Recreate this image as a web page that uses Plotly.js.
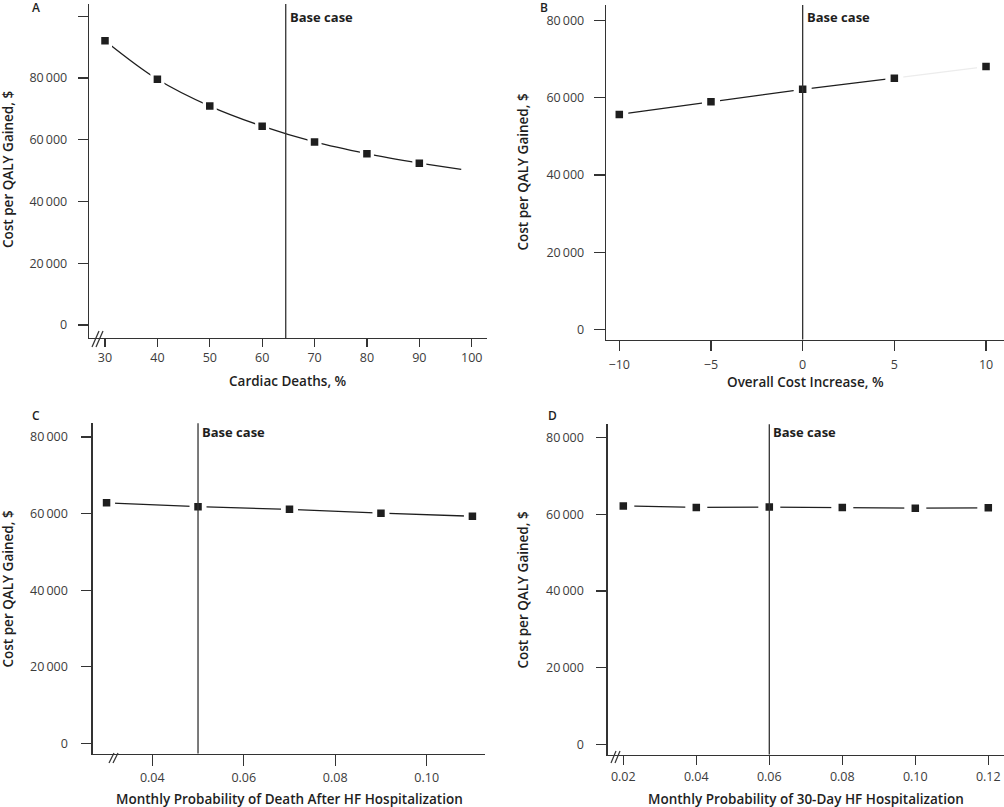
<!DOCTYPE html>
<html>
<head>
<meta charset="utf-8">
<script src="https://cdn.plot.ly/plotly-3.0.1.min.js"></script>
<style>html,body{margin:0;padding:0;background:#fff}#chart{width:1004px;height:807px}</style>
</head>
<body>
<div id="chart"></div>
<script>
// ---------- data ----------
const yTickVals = [0, 20000, 40000, 60000, 80000];
const yTickText = ['0', '20\u2009000', '40\u2009000', '60\u2009000', '80\u2009000'];

// Panel A: Cardiac deaths, %
const aX = [30, 40, 50, 60, 70, 80, 90];
const aY = [92100, 79600, 70900, 64400, 59300, 55500, 52400];
const aTailX = [90, 98];          // curve continues past the last point
const aTailY = [52400, 50400];
const aTicks = [30, 40, 50, 60, 70, 80, 90, 100];
const aTickText = ['30', '40', '50', '60', '70', '80', '90', '100'];
const aBase = 64.5;

// Panel B: Overall cost increase, %
const bX = [-10, -5, 0, 5, 10];
const bY = [55700, 59000, 62200, 65100, 68100];
const bTicks = [-10, -5, 0, 5, 10];
const bTickText = ['\u221210', '\u22125', '0', '5', '10'];
const bBase = 0;

// Panel C: Monthly probability of death after HF hospitalization
const cX = [0.03, 0.05, 0.07, 0.09, 0.11];
const cY = [62800, 61800, 61100, 60100, 59300];
const cTicks = [0.04, 0.06, 0.08, 0.10];
const cTickText = ['0.04', '0.06', '0.08', '0.10'];
const cBase = 0.05;

// Panel D: Monthly probability of 30-day HF hospitalization
const dX = [0.02, 0.04, 0.06, 0.08, 0.10, 0.12];
const dY = [62200, 61800, 61900, 61800, 61600, 61700];
const dTicks = [0.02, 0.04, 0.06, 0.08, 0.10, 0.12];
const dTickText = ['0.02', '0.04', '0.06', '0.08', '0.10', '0.12'];
const dBase = 0.06;

const panelLabels = ['A', 'B', 'C', 'D'];
const xTitles = ['Cardiac Deaths, %', 'Overall Cost Increase, %',
  'Monthly Probability of Death After HF Hospitalization',
  'Monthly Probability of 30-Day HF Hospitalization'];
const yTitle = 'Cost per QALY Gained, $';

// ---------- layout helpers ----------
const W = 1004, H = 807;
const px = v => v / W;
const py = v => 1 - v / H;
const FONT = 'Open Sans, Noto Sans, sans-serif';
const INK = '#1e1e1e';
const AX = '#333333';
const MARK = 7.5;        // visible black square side
const HALO = '#ffffff';  // white halo opens the gap in the line

function lineTrace(x, y, xa, ya, color) {
  return {x: x, y: y, xaxis: xa, yaxis: ya, type: 'scatter', mode: 'lines',
    line: {color: color, width: 1.3},
    hoverinfo: 'skip', showlegend: false};
}
// line + black squares with a white halo (stroke) that opens a gap in the line
function seriesTrace(x, y, xa, ya, outer, mode, shape) {
  const s = (outer + MARK) / 2, w = (outer - MARK) / 2;
  return {x: x, y: y, xaxis: xa, yaxis: ya, type: 'scatter', mode: mode,
    line: {color: INK, width: 1.3, shape: shape || 'linear', smoothing: 1},
    marker: {symbol: 'square', size: s, color: INK, line: {width: w, color: HALO}},
    showlegend: false};
}

const data = [
  lineTrace(aTailX, aTailY, 'x', 'y', INK),
  seriesTrace(aX, aY, 'x', 'y', 14, 'lines+markers', 'spline'),

  lineTrace(bX.slice(3), bY.slice(3), 'x2', 'y2', '#ececec'),
  seriesTrace(bX.slice(0, 4), bY.slice(0, 4), 'x2', 'y2', 18, 'lines+markers'),
  seriesTrace(bX.slice(4), bY.slice(4), 'x2', 'y2', 18, 'markers'),

  seriesTrace(cX, cY, 'x3', 'y3', 17, 'lines+markers'),

  seriesTrace(dX, dY, 'x4', 'y4', 22, 'lines+markers')
];

function axis(domain, range, tv, tt, anchor, ticklen, standoff) {
  return {domain: domain, range: range, anchor: anchor, tickmode: 'array',
    tickvals: tv, ticktext: tt, ticks: 'outside', ticklen: ticklen, tickwidth: 1.2,
    tickcolor: AX, showline: true, linecolor: AX, linewidth: 1.3,
    showgrid: false, zeroline: false, fixedrange: true, ticklabelstandoff: standoff,
    tickfont: {family: FONT, size: 12.5, color: '#3c3c3c'}};
}

const aYT = yTickVals.concat([100000]);
const aYTT = yTickText.concat(['']);

const layout = {
  width: W, height: H,
  margin: {l: 0, r: 0, t: 0, b: 0},
  paper_bgcolor: '#ffffff', plot_bgcolor: 'rgba(0,0,0,0)',
  showlegend: false,
  font: {family: FONT, color: INK},
  xaxis:  axis([px(89), px(487)], [26.946, 102.92], aTicks, aTickText, 'y', 8, 0),
  yaxis:  axis([py(338), py(4)], [-4211, 103968], aYT, aYTT, 'x', 10, 8),
  xaxis2: axis([px(606), 1], [-10.725, 10.98], bTicks, bTickText, 'y2', 10, 3),
  yaxis2: axis([py(339.5), py(5)], [-2645, 84070], yTickVals, yTickText, 'x2', 11, 7),
  xaxis3: axis([px(92.7), px(485)], [0.02697, 0.11275], cTicks, cTickText, 'y3', 11, 1),
  yaxis3: axis([py(753.5), py(423.3)], [-2665, 83578], yTickVals, yTickText, 'x3', 10, 11),
  xaxis4: axis([px(607.7), 1], [0.015726, 0.1243], dTicks, dTickText, 'y4', 9, 1),
  yaxis4: axis([py(754.5), py(424.3)], [-2660, 83496], yTickVals, yTickText, 'x4', 10, 10),
  shapes: [],
  annotations: []
};

// base case lines + labels
const bases = [[aBase, 'x', 'y', -13], [bBase, 'x2', 'y2', -12], [cBase, 'x3', 'y3', -9], [dBase, 'x4', 'y4', -8]];
bases.forEach(b => {
  layout.shapes.push({type: 'line', xref: b[1], yref: b[2] + ' domain', x0: b[0], x1: b[0], y0: 0, y1: 1,
    line: {color: AX, width: 1.3}, layer: 'above'});
  layout.annotations.push({text: 'Base case', xref: b[1], yref: b[2] + ' domain', x: b[0], y: 1,
    xanchor: 'left', yanchor: 'middle', xshift: 2, yshift: b[3], showarrow: false,
    font: {family: FONT, size: 13, color: INK, weight: 700}});
});

// axis break marks
const breaks = [[92, 347, 99, 331], [96, 347, 103, 331],
                [109, 763, 114, 753], [113, 763, 118, 753],
                [611, 763, 616, 751], [615, 763, 620, 751]];
breaks.forEach(s => layout.shapes.push({type: 'line', xref: 'paper', yref: 'paper',
  x0: px(s[0]), y0: py(s[1]), x1: px(s[2]), y1: py(s[3]), line: {color: AX, width: 1.2}}));

// panel letters
const labelPos = [[36, 8], [544, 8], [35.5, 415], [552.5, 415]];
panelLabels.forEach((t, i) => layout.annotations.push({text: t, xref: 'paper', yref: 'paper',
  x: px(labelPos[i][0]), y: py(labelPos[i][1]), xanchor: 'center', yanchor: 'middle', showarrow: false,
  borderpad: 0, font: {family: FONT, size: 12, color: INK, weight: 600}}));

// axis titles
const xTitlePos = [[288, 381], [805, 381.7], [289, 799], [806, 799]];
xTitles.forEach((t, i) => layout.annotations.push({text: t, xref: 'paper', yref: 'paper',
  x: px(xTitlePos[i][0]), y: py(xTitlePos[i][1]), xanchor: 'center', yanchor: 'middle', showarrow: false,
  font: {family: FONT, size: 13.5, color: INK, weight: 600}}));
const yTitlePos = [[8, 170], [522.5, 172], [7.5, 589], [522.5, 590]];
yTitlePos.forEach(p => layout.annotations.push({text: yTitle, xref: 'paper', yref: 'paper',
  x: px(p[0]), y: py(p[1]), xanchor: 'center', yanchor: 'middle', textangle: -90, showarrow: false,
  font: {family: FONT, size: 13.5, color: INK, weight: 600}}));

Plotly.newPlot('chart', data, layout, {displayModeBar: false, staticPlot: true});
</script>
</body>
</html>
